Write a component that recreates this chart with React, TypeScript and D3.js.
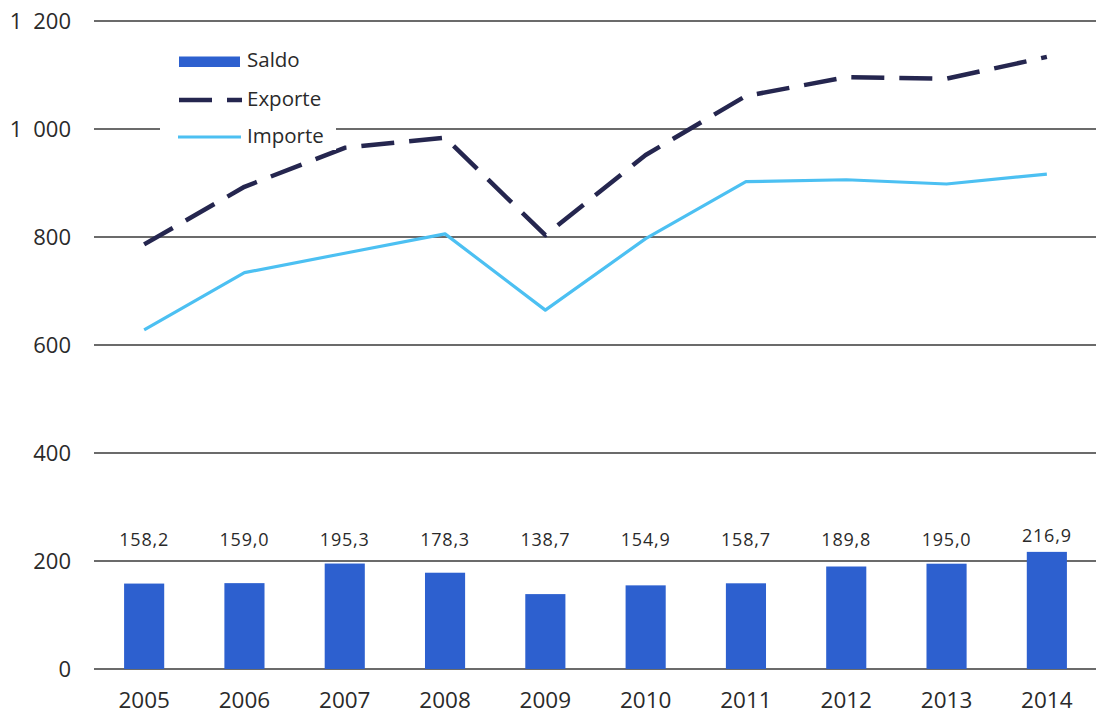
import * as d3 from "d3";

const years = ["2005", "2006", "2007", "2008", "2009", "2010", "2011", "2012", "2013", "2014"];
const saldo = [158.2, 159.0, 195.3, 178.3, 138.7, 154.9, 158.7, 189.8, 195.0, 216.9];
const exporte = [786.3, 893.0, 965.2, 984.1, 803.3, 951.9, 1061.2, 1095.8, 1093.1, 1133.5];
const importe = [628.1, 734.0, 769.9, 805.8, 664.6, 797.0, 902.5, 906.0, 898.1, 916.6];
const yTicks = [0, 200, 400, 600, 800, 1000, 1200];

const W = 1096;
const H = 716;
const FONT = "'Open Sans', 'Noto Sans', sans-serif";

const fmtTick = (v: number) => (v >= 1000 ? `${Math.floor(v / 1000)}\u2002${String(v % 1000).padStart(3, "0")}` : String(v));
const fmtVal = (v: number) => v.toFixed(1).replace(".", ",");

export default function App() {
  const x = d3.scaleBand().domain(years).range([94, 1097]).paddingInner(0.6).paddingOuter(0.3);
  const y = d3.scaleLinear().domain([0, 1200]).range([669, 21]);
  const cx = (i: number) => x(years[i])! + x.bandwidth() / 2;

  const line = d3
    .line<number>()
    .x((_, i) => cx(i))
    .y((d) => y(d));

  return (
    <svg width={W} height={H} style={{ position: "absolute", left: 0, top: 0, background: "#fff" }} fontFamily={FONT}>
      {/* grid lines and y tick labels */}
      {yTicks.map((t) => (
        <g key={t}>
          <line x1={94} x2={W} y1={y(t)} y2={y(t)} stroke="#3a3a3a" strokeWidth={1.6} />
          <text x={71} y={y(t)} dy="0.36em" textAnchor="end" fontSize={22} fill="#2a2a2a">
            {fmtTick(t)}
          </text>
        </g>
      ))}

      {/* bars */}
      {saldo.map((v, i) => (
        <rect key={years[i]} x={x(years[i])} y={y(v)} width={x.bandwidth()} height={y(0) - y(v)} fill="#2d60cf" />
      ))}

      {/* bar labels */}
      {saldo.map((v, i) => (
        <text
          key={"l" + years[i]}
          x={cx(i)}
          y={Math.min(546, y(v) - 10)}
          textAnchor="middle"
          fontSize={18}
          letterSpacing={0.8}
          fill="#2a2a2a"
        >
          {fmtVal(v)}
        </text>
      ))}

      {/* lines */}
      <path d={line(importe)!} fill="none" stroke="#4cc0f2" strokeWidth={3.2} strokeLinejoin="round" />
      <path d={line(exporte)!} fill="none" stroke="#25264f" strokeWidth={4.5} strokeDasharray="33 15" strokeLinejoin="round" />

      {/* x labels */}
      {years.map((yr, i) => (
        <text key={"x" + yr} x={cx(i)} y={708} textAnchor="middle" fontSize={22.5} fill="#2a2a2a">
          {yr}
        </text>
      ))}

      {/* legend */}
      <g>
        <rect x={160} y={40} width={176} height={110} fill="#fff" />
        <rect x={179} y={56.5} width={61} height={10.5} fill="#2d60cf" />
        <line x1={179} x2={242} y1={100} y2={100} stroke="#25264f" strokeWidth={4.5} strokeDasharray="33 15" />
        <line x1={178} x2={241} y1={137} y2={137} stroke="#4cc0f2" strokeWidth={3.2} />
        <text x={247} y={67} fontSize={20.5} fill="#2a2a2a">Saldo</text>
        <text x={247} y={106} fontSize={20.5} fill="#2a2a2a">Exporte</text>
        <text x={247} y={143} fontSize={20.5} fill="#2a2a2a">Importe</text>
      </g>
    </svg>
  );
}
